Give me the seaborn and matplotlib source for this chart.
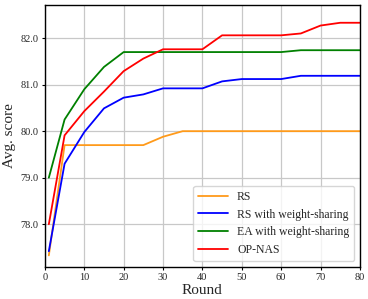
import numpy as np
import pandas as pd
import matplotlib
matplotlib.use("Agg")
import matplotlib.pyplot as plt
import seaborn as sns

# rounds
rounds = [1, 5, 10, 15, 20, 25, 30, 35, 40, 45, 50, 55, 60, 65, 70, 75, 80]

rs = [77.33, 79.70, 79.70, 79.70, 79.70, 79.70, 79.88, 80.00, 80.00, 80.00,
      80.00, 80.00, 80.00, 80.00, 80.00, 80.00, 80.00]
rs_ws = [77.42, 79.30, 79.98, 80.49, 80.72, 80.79, 80.92, 80.92, 80.92, 81.07,
         81.12, 81.12, 81.12, 81.19, 81.19, 81.19, 81.19]
ea_ws = [79.00, 80.25, 80.90, 81.38, 81.70, 81.70, 81.70, 81.70, 81.70, 81.70,
         81.70, 81.70, 81.70, 81.74, 81.74, 81.74, 81.74]
opnas = [78.00, 79.91, 80.43, 80.85, 81.29, 81.56, 81.76, 81.76, 81.76, 82.06,
         82.06, 82.06, 82.06, 82.10, 82.27, 82.33, 82.33]

methods = ["RS", "RS with weight-sharing", "EA with weight-sharing", "OP-NAS"]
colors = ["#ff9a1a", "#0000ff", "#008000", "#ff0000"]

df = pd.DataFrame({"Round": rounds * 4,
                   "score": rs + rs_ws + ea_ws + opnas,
                   "method": np.repeat(methods, len(rounds))})

sns.set_style("whitegrid", {"xtick.bottom": True, "ytick.left": True})
plt.rcParams["font.family"] = ["Liberation Serif", "DejaVu Serif"]

fig = plt.figure(figsize=(3.68, 2.99), dpi=100)
ax = fig.add_axes([0.122, 0.107, 0.856, 0.876])
sns.lineplot(data=df, x="Round", y="score", hue="method", palette=colors,
             linewidth=1.3, ax=ax)

ax.set_xlim(0, 80)
ax.set_ylim(77.08, 82.71)
ax.set_xticks(range(0, 81, 10))
ax.set_yticks([78.0, 79.0, 80.0, 81.0, 82.0])
ax.set_yticklabels(["78.0", "79.0", "80.0", "81.0", "82.0"])
ax.tick_params(labelsize=7.5, length=2.5, width=0.8, pad=2, color="black")
ax.set_xlabel("Round", fontsize=11, labelpad=1)
ax.set_ylabel("Avg. score", fontsize=11, labelpad=3)
ax.grid(True, color="#c8c8c8", linewidth=0.9)
for s in ax.spines.values():
    s.set_edgecolor("black")
    s.set_linewidth(1.0)
leg = ax.legend(loc="lower right", fontsize=8.5, frameon=True, handlelength=2.5)
leg.set_title(None)

fig.savefig("out.png", dpi=100)
